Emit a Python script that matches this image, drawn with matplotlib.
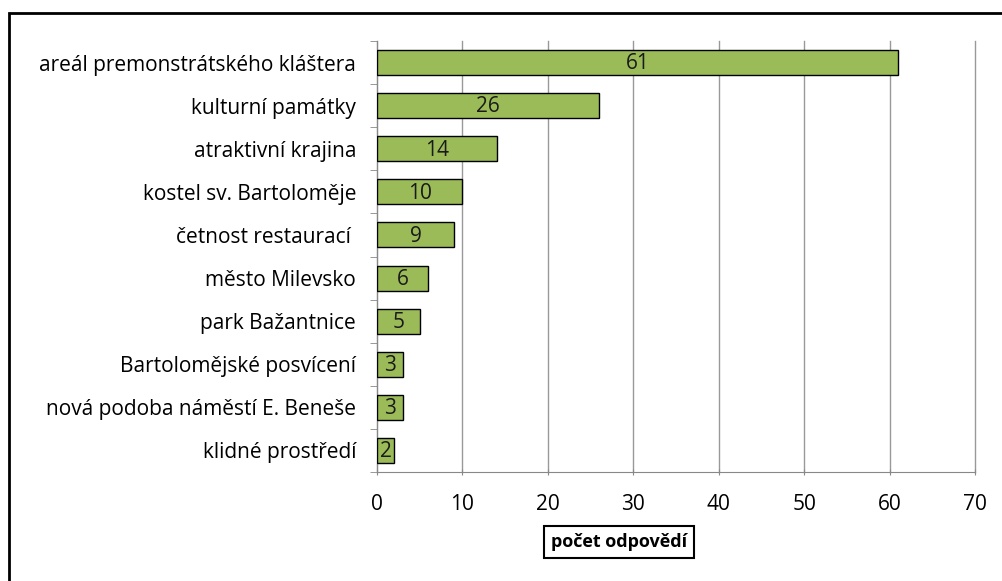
import matplotlib.pyplot as plt
from matplotlib.patches import Rectangle

categories = ['areál premonstrátského kláštera', 'kulturní památky', 'atraktivní krajina',
              'kostel sv. Bartoloměje', 'četnost restaurací ', 'město Milevsko',
              'park Bažantnice', 'Bartolomějské posvícení', 'nová podoba náměstí E. Beneše',
              'klidné prostředí']
counts = [61, 26, 14, 10, 9, 6, 5, 3, 3, 2]
x_ticks = [0, 10, 20, 30, 40, 50, 60, 70]

plt.rcParams['font.family'] = ['Open Sans', 'DejaVu Sans']

fig = plt.figure(figsize=(10.03, 5.81), dpi=100)
ax = fig.add_axes([377 / 1003, 1 - 472 / 581, 598 / 1003, 431 / 581])

pos = list(range(len(categories)))
bars = ax.barh(pos, counts, height=0.58, color='#9bbb59', edgecolor='black', linewidth=1, zorder=3)
for b, v in zip(bars, counts):
    ax.text(b.get_width() / 2, b.get_y() + b.get_height() / 2 + 0.03, str(v),
            ha='center', va='center', fontsize=15, color='#1a1a1a', zorder=4)

ax.set_ylim(len(categories) - 0.5, -0.5)
ax.set_xlim(0, 70)
ax.set_xticks(x_ticks)
ax.set_yticks(pos)
ax.set_yticklabels(categories, fontsize=15)
ax.set_yticks([p - 0.5 for p in pos] + [len(pos) - 0.5], minor=True)
ax.tick_params(axis='y', which='major', length=0, pad=15)
ax.tick_params(axis='y', which='minor', length=5, color='#888888')
ax.tick_params(axis='x', length=5, direction='inout', color='#888888', labelsize=15, pad=13)
ax.grid(axis='x', color='#999999', linewidth=1, zorder=0)
for gl in ax.get_xgridlines():
    gl.set_clip_on(False)

for s in ['top', 'right']:
    ax.spines[s].set_visible(False)
for s in ['left', 'bottom']:
    ax.spines[s].set_color('#888888')

# popisek osy v rámečku
fig.text(619 / 1003, 1 - 542 / 581, 'počet odpovědí', ha='center', va='center',
         fontsize=13, fontweight='bold',
         bbox=dict(boxstyle='square,pad=0.4', facecolor='white', edgecolor='black', linewidth=1.5))

fig.patches.append(Rectangle((9 / 1003, -0.1), 1.2, 1 - 13 / 581 + 0.1, transform=fig.transFigure,
                             fill=False, edgecolor='black', linewidth=2, zorder=0))

fig.savefig('out.png', dpi=100)
